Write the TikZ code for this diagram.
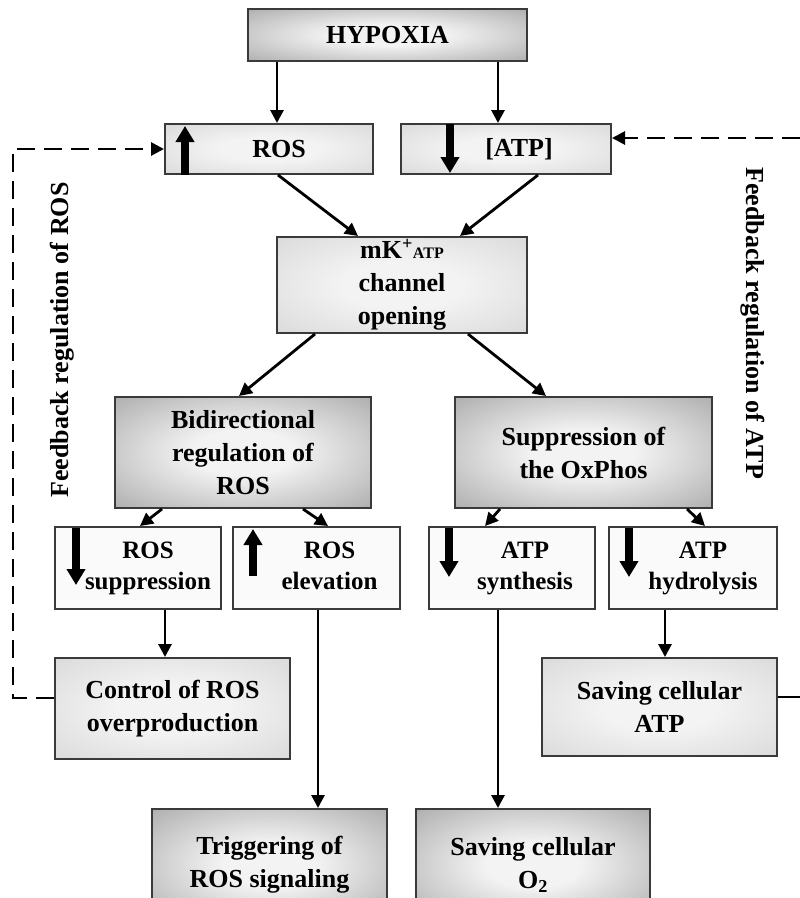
\documentclass[tikz,border=0pt]{standalone}
\usepackage{fontspec}
\setmainfont{Liberation Serif}
\usetikzlibrary{arrows.meta}

\definecolor{edge}{HTML}{3A3A3A}
\definecolor{darkrim}{HTML}{888888}
\definecolor{lightrim}{HTML}{CCCCCC}
\definecolor{glow}{HTML}{F3F3F3}
\definecolor{paper}{HTML}{FAFAFA}

% soft "from centre" fills for the boxes
\pgfdeclareradialshading{darkglow}{\pgfpoint{0bp}{0bp}}{color(0bp)=(glow); color(10bp)=(glow); color(50bp)=(darkrim)}
\pgfdeclareradialshading{lightglow}{\pgfpoint{0bp}{0bp}}{color(0bp)=(glow); color(12bp)=(glow); color(50bp)=(lightrim)}

% text block pushed right to leave room for the trend arrow
\newcommand\offsetlines[2]{\hspace*{#1}\begin{tabular}{@{}c@{}}#2\end{tabular}}

\tikzset{
  box/.style={draw=edge, line width=2pt, rectangle, align=center, inner sep=0pt,
    font=\bfseries\fontsize{26}{33}\selectfont},
  darkbox/.style={box, shading=darkglow},
  lightbox/.style={box, shading=lightglow},
  plainbox/.style={box, fill=paper, font=\bfseries\fontsize{25}{31}\selectfont},
  conn/.style={draw=black, line width=2.8pt, -{Triangle[width=13pt,length=13pt]}},
  fb/.style={draw=black, line width=2.8pt, dash pattern=on 18pt off 9pt,
    -{Triangle[width=13pt,length=13pt]}},
  fbtail/.style={draw=black, line width=2.8pt},
  trend/.style={draw=black, line width=8pt, -{Triangle[width=18pt,length=16pt]}},
  sidetext/.style={font=\bfseries\fontsize{26}{30}\selectfont, inner sep=0pt},
}

\begin{document}
\begin{tikzpicture}[x=1pt,y=-1pt]
\useasboundingbox (0,0) rectangle (800,898);
\clip (0,0) rectangle (800,898);

% boxes
\node[darkbox, minimum width=279pt, minimum height=52pt] (hyp) at (387.5,35) {HYPOXIA};
\node[lightbox, minimum width=208pt, minimum height=50pt] (ros) at (269,149) {\hspace*{20pt}ROS};
\node[lightbox, minimum width=210pt, minimum height=50pt] (atp) at (506,149) {\hspace*{26pt}[ATP]};
\node[lightbox, minimum width=250pt, minimum height=96pt] (mk) at (402,285)
  {mK\textsuperscript{+}{\fontsize{16}{16}\selectfont ATP}\\channel\\opening};
\node[darkbox, minimum width=256pt, minimum height=111pt] (bid) at (243,452.5)
  {Bidirectional\\regulation of\\ROS};
\node[darkbox, minimum width=257pt, minimum height=111pt] (sup) at (583.5,452.5)
  {Suppression of\\the OxPhos};
\node[plainbox, minimum width=166pt, minimum height=82pt] (rsup) at (138,568)
  {\offsetlines{20pt}{ROS\\suppression}};
\node[plainbox, minimum width=167pt, minimum height=82pt] (rele) at (316.5,568)
  {\offsetlines{26pt}{ROS\\elevation}};
\node[plainbox, minimum width=166pt, minimum height=82pt] (asyn) at (512,568)
  {\offsetlines{26pt}{ATP\\synthesis}};
\node[plainbox, minimum width=168pt, minimum height=82pt] (ahyd) at (693,568)
  {\offsetlines{20pt}{ATP\\hydrolysis}};
\node[lightbox, minimum width=235pt, minimum height=101pt] (ctrl) at (172.5,708.5)
  {Control of ROS\\overproduction};
\node[lightbox, minimum width=235pt, minimum height=98pt] (satp) at (659.5,707)
  {Saving cellular\\ATP};
\node[darkbox, minimum width=235pt, minimum height=112pt] (trig) at (269.5,865)
  {Triggering of\\ROS signaling};
\node[darkbox, minimum width=234pt, minimum height=112pt] (so2) at (533,865)
  {Saving cellular\\O\textsubscript{2}};

% trend arrows inside the boxes
\draw[trend] ([xshift=21pt]ros.south west) -- ([xshift=21pt,yshift=-3pt]ros.north west);
\draw[trend] ([xshift=50pt,yshift=-1pt]atp.north west) -- ([xshift=50pt,yshift=2pt]atp.south west);
\draw[trend] ([xshift=22pt,yshift=-2pt]rsup.north west) -- ([xshift=22pt,yshift=-59pt]rsup.north west);
\draw[trend] ([xshift=21pt,yshift=-50pt]rele.north west) -- ([xshift=21pt,yshift=-3pt]rele.north west);
\draw[trend] ([xshift=21pt,yshift=-2pt]asyn.north west) -- ([xshift=21pt,yshift=-51pt]asyn.north west);
\draw[trend] ([xshift=21pt,yshift=-2pt]ahyd.north west) -- ([xshift=21pt,yshift=-51pt]ahyd.north west);

% connectors
\draw[conn] ([xshift=8pt]ros.north |- hyp.south) -- ([xshift=8pt]ros.north);
\draw[conn] ([xshift=-8pt]atp.north |- hyp.south) -- ([xshift=-8pt]atp.north);
\draw[conn] ([xshift=9pt]ros.south) -- ([xshift=-44pt]mk.north);
\draw[conn] ([xshift=32pt]atp.south) -- ([xshift=58pt]mk.north);
\draw[conn] ([xshift=-87pt]mk.south) -- ([xshift=-4pt]bid.north);
\draw[conn] ([xshift=66pt]mk.south) -- ([xshift=-37.5pt]sup.north);
\draw[conn] ([xshift=-81pt]bid.south) -- ([xshift=2pt]rsup.north);
\draw[conn] ([xshift=60pt]bid.south) -- ([xshift=11.5pt]rele.north);
\draw[conn] ([xshift=-83.5pt]sup.south) -- ([xshift=-27pt]asyn.north);
\draw[conn] ([xshift=103.5pt]sup.south) -- ([xshift=12pt]ahyd.north);
\draw[conn] ([xshift=27pt]rsup.south) -- ([xshift=27pt]rsup.south |- ctrl.north);
\draw[conn] ([xshift=1.5pt]rele.south) -- ([xshift=1.5pt]rele.south |- trig.north);
\draw[conn] ([xshift=-14pt]asyn.south) -- ([xshift=-14pt]asyn.south |- so2.north);
\draw[conn] ([xshift=-28pt]ahyd.south) -- ([xshift=-28pt]ahyd.south |- satp.north);

% feedback loops
\coordinate (fbL) at (13,149);
\coordinate (fbR) at (800,138);
\coordinate (fbRb) at (800,697);
\draw[fb] ([yshift=10.5pt]ctrl.west) -| (fbL) -- (ros.west);
\draw[fb] (fbR) -- (atp.east |- fbR);
\draw[fbtail] ([yshift=10pt]satp.east) -- (fbRb);

\node[sidetext, rotate=90] (fbroslabel) at (62,340) {Feedback regulation of ROS};
\node[sidetext, rotate=-90] (fbatplabel) at (753,323) {Feedback regulation of ATP};
\end{tikzpicture}
\end{document}
